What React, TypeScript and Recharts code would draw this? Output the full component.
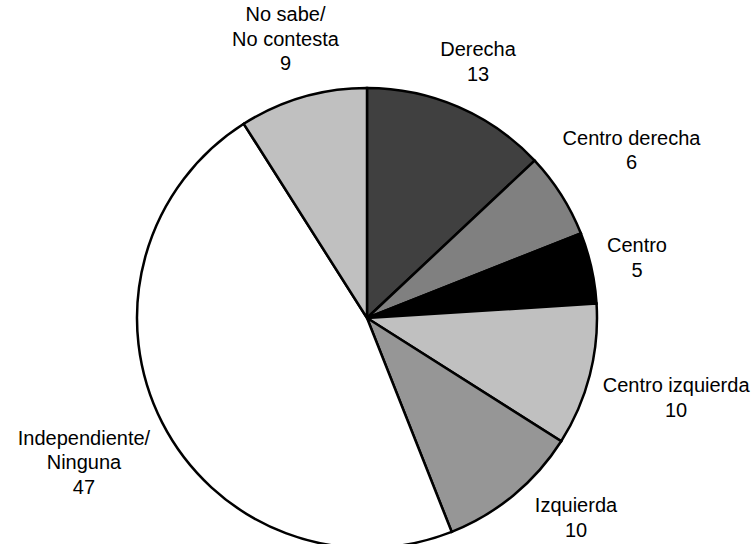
import React from "react";
import { PieChart, Pie, Cell } from "recharts";

const CATEGORIES = [
  "Derecha",
  "Centro derecha",
  "Centro",
  "Centro izquierda",
  "Izquierda",
  "Independiente/\nNinguna",
  "No sabe/\nNo contesta",
];
const VALUES = [13, 6, 5, 10, 10, 47, 9];
const COLORS = ["#404040", "#808080", "#000000", "#c0c0c0", "#969696", "#ffffff", "#c0c0c0"];

const DATA = CATEGORIES.map((name, i) => ({ name, value: VALUES[i] }));

const W = 753;
const H = 544;
const FONT_SIZE = 20;
const LINE_H = 24.5;
const GAP = 12;
const RAD = Math.PI / 180;

let ctx: CanvasRenderingContext2D | null = null;
const measure = (s: string) => {
  if (!ctx) ctx = document.createElement("canvas").getContext("2d");
  if (!ctx) return s.length * FONT_SIZE * 0.5;
  ctx.font = `${FONT_SIZE}px "Liberation Sans", Arial, sans-serif`;
  return ctx.measureText(s).width;
};

// distance from pie centre to nearest point of a label box
const boxDist = (cx: number, cy: number, x: number, y: number, w: number, h: number) => {
  const px = Math.min(Math.max(cx, x - w / 2), x + w / 2);
  const py = Math.min(Math.max(cy, y - h / 2), y + h / 2);
  return Math.hypot(px - cx, py - cy);
};

// label box sits just outside the slice, along its mid angle, kept inside the chart
const renderLabel = (props: any) => {
  const { cx, cy, midAngle, outerRadius, name, value } = props;
  const lines = [...String(name).split("\n"), String(value)];
  const w = Math.max(...lines.map(measure));
  const h = lines.length * LINE_H;
  const sx = Math.cos(-midAngle * RAD);
  const sy = Math.sin(-midAngle * RAD);
  const d = outerRadius + GAP + Math.abs(sx) * (w / 2) + Math.abs(sy) * (h / 2);
  let x = cx + d * sx;
  const y = Math.min(Math.max(cy + d * sy, h / 2 + 2), H - h / 2 - 2);
  // pushed back inward by the clamp: slide sideways until clear of the pie
  let guard = 0;
  while (boxDist(cx, cy, x, y, w, h) < outerRadius + GAP && guard++ < 300) x += sx >= 0 ? 1 : -1;
  x = Math.min(Math.max(x, w / 2 + 2), W - w / 2 - 2);
  const top = y - ((lines.length - 1) / 2) * LINE_H;
  return (
    <text
      x={x}
      y={top}
      textAnchor="middle"
      dominantBaseline="central"
      fill="#000"
      fontSize={FONT_SIZE}
      fontFamily='"Liberation Sans", Arial, sans-serif'
    >
      {lines.map((l, i) => (
        <tspan key={i} x={x} y={top + i * LINE_H}>
          {l}
        </tspan>
      ))}
    </text>
  );
};

export default function App() {
  return (
    <div style={{ position: "absolute", left: 0, top: 0, width: W, height: H, background: "#fff" }}>
      <PieChart width={W} height={H} margin={{ top: 0, right: 0, bottom: 0, left: 0 }}>
        <Pie
          data={DATA}
          dataKey="value"
          nameKey="name"
          cx={367}
          cy={318}
          outerRadius={230}
          startAngle={90}
          endAngle={-270}
          stroke="#000"
          strokeWidth={2.5}
          label={renderLabel}
          labelLine={false}
          isAnimationActive={false}
        >
          {DATA.map((d, i) => (
            <Cell key={d.name} fill={COLORS[i]} />
          ))}
        </Pie>
      </PieChart>
    </div>
  );
}
